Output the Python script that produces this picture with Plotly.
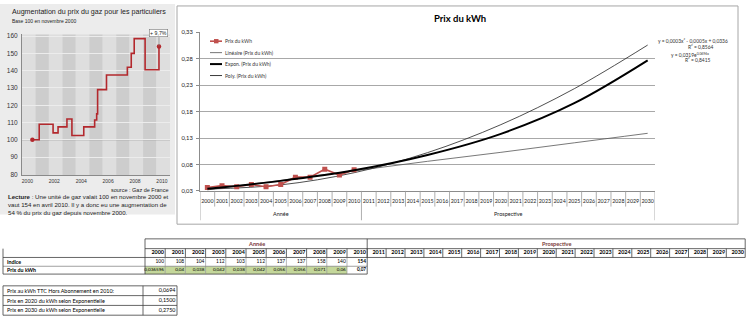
import plotly.graph_objects as go

W, H = 750, 327
def X(px): return px / W
def Y(py): return 1 - py / H

# ---------------- data ----------------
# Left panel: gas price index (base 100 = Nov 2000), step dates
gas_dates = [2000.37, 2000.88, 2001.91, 2002.28, 2002.94, 2003.31, 2004.19, 2005.0,
             2005.15, 2005.22, 2005.88, 2007.43, 2007.72, 2007.94, 2008.75, 2009.78]
gas_index = [100, 109, 104, 107.5, 112, 102.5, 107.5, 111.5,
             115, 129, 137.5, 142, 150, 158.5, 140.5, 154]
gas_xticks = [2000, 2002, 2004, 2006, 2008, 2010]
gas_yticks = [80, 90, 100, 110, 120, 130, 140, 150, 160]

# Main chart
years = list(range(2000, 2031))
year_labels = [str(y) for y in years]
obs_years = list(range(2000, 2011))
prix_kwh = [0.036596, 0.04, 0.038, 0.042, 0.038, 0.042, 0.056, 0.056, 0.071, 0.06, 0.07]
indice = [100, 108, 104, 112, 103, 112, 137, 137, 158, 140, 154]
prix_txt = ["0,036596", "0,04", "0,038", "0,042", "0,038", "0,042", "0,056", "0,056", "0,071", "0,06", "0,07"]
trend_years = [2000, 2005, 2010, 2015, 2020, 2025, 2030]
trend_lin = [0.032, 0.050, 0.068, 0.086, 0.103, 0.121, 0.139]
trend_exp = [0.034, 0.049, 0.069, 0.098, 0.138, 0.196, 0.277]
trend_poly = [0.0334, 0.0414, 0.0644, 0.1024, 0.1554, 0.2234, 0.306]
y_ticks = [0.03, 0.08, 0.13, 0.18, 0.23, 0.28, 0.33]

summary_labels = ["Prix au kWh TTC Hors Abonnement en 2010:",
                  "Prix en 2020 du kWh selon Exponentielle",
                  "Prix en 2030 du kWh selon Exponentielle"]
summary_values = ["0,0694", "0,1500", "0,2750"]

RED_GAS = "#b3282d"
RED_XL = "#c0504d"
XLFONT = "Lato"
ARIAL = "Liberation Sans"

fig = go.Figure()
shapes = []
ann = []

# ---------------- left panel ----------------
shapes.append(dict(type="rect", xref="paper", yref="paper", x0=0, x1=X(175), y0=Y(215), y1=Y(0),
                   fillcolor="#ececec", line=dict(width=0), layer="below"))
band_edges = [1999.6 + i for i in range(12)]
for i in range(11):
    shapes.append(dict(type="rect", xref="x", yref="y", x0=band_edges[i], x1=band_edges[i + 1],
                       y0=79.5, y1=161, fillcolor="#cdcdcd" if i % 2 else "#dedede",
                       line=dict(width=0), layer="below"))
shapes.append(dict(type="line", xref="x", yref="y", x0=1999.6, x1=2010.6, y0=100, y1=100,
                   line=dict(color="#9a9a9a", width=1), layer="below"))

fig.add_trace(go.Scatter(x=gas_dates, y=gas_index, mode="lines", xaxis="x", yaxis="y",
                         line=dict(color=RED_GAS, width=1.6, shape="hv"), hoverinfo="skip", showlegend=False))
fig.add_trace(go.Scatter(x=[gas_dates[0], gas_dates[-1]], y=[gas_index[0], gas_index[-1]], mode="markers",
                         xaxis="x", yaxis="y", marker=dict(color=RED_GAS, size=4.5), hoverinfo="skip",
                         showlegend=False))

ann.append(dict(xref="paper", yref="paper", x=X(10), y=Y(8), xanchor="left", yanchor="middle",
                text="Augmentation du prix du gaz pour les particuliers", showarrow=False,
                font=dict(family=ARIAL, size=7.1, color="#222")))
ann.append(dict(xref="paper", yref="paper", x=X(10), y=Y(17), xanchor="left", yanchor="middle",
                text="Base 100 en novembre 2000", showarrow=False,
                font=dict(family=ARIAL, size=5, color="#222")))
ann.append(dict(xref="x", yref="y", x=gas_dates[-1], y=gas_index[-1], ax=0, ay=-13,
                text="+ 9,7%", showarrow=True, arrowhead=0, arrowwidth=0.6, arrowcolor="#777",
                bgcolor="white", bordercolor="#777", borderwidth=0.6, borderpad=0.5,
                font=dict(family=ARIAL, size=5.2, color="#222")))
ann.append(dict(xref="paper", yref="paper", x=X(170), y=Y(190), xanchor="right", yanchor="middle",
                text="source : Gaz de France", showarrow=False,
                font=dict(family=ARIAL, size=5.5, color="#222")))
ann.append(dict(xref="paper", yref="paper", x=X(6), y=Y(205), xanchor="left", yanchor="middle", align="left",
                text="<b>Lecture</b> : Une unité de gaz valait 100 en novembre 2000 et<br>"
                     "vaut 154 en avril 2010. Il y a donc eu une augmentation de<br>"
                     "54 % du prix du gaz depuis novembre 2000.",
                showarrow=False, font=dict(family=ARIAL, size=6.1, color="#222")))

# ---------------- main Excel chart ----------------
shapes.append(dict(type="rect", xref="paper", yref="paper", x0=X(177), x1=X(738), y0=Y(225), y1=Y(2),
                   line=dict(color="#a6a6a6", width=1), fillcolor="rgba(0,0,0,0)", layer="below"))

fig.add_trace(go.Scatter(x=trend_years, y=trend_lin, mode="lines", xaxis="x2", yaxis="y2",
                         line=dict(color="#555555", width=0.8, shape="spline"), hoverinfo="skip", showlegend=False))
fig.add_trace(go.Scatter(x=trend_years, y=trend_poly, mode="lines", xaxis="x2", yaxis="y2",
                         line=dict(color="#222222", width=0.8, shape="spline"), hoverinfo="skip", showlegend=False))
fig.add_trace(go.Scatter(x=obs_years, y=prix_kwh, mode="lines+markers", xaxis="x2", yaxis="y2",
                         line=dict(color=RED_XL, width=1.6), marker=dict(symbol="square", size=5, color=RED_XL),
                         hoverinfo="skip", showlegend=False))
fig.add_trace(go.Scatter(x=trend_years, y=trend_exp, mode="lines", xaxis="x2", yaxis="y2",
                         line=dict(color="#000000", width=2, shape="spline"), hoverinfo="skip", showlegend=False))

ann.append(dict(xref="paper", yref="paper", x=X(460), y=Y(15), xanchor="center", yanchor="middle",
                text="<b>Prix du kWh</b>", showarrow=False, font=dict(family=XLFONT, size=9.5, color="#000")))

for k in range(len(years) + 1):
    xv = years[0] - 0.5 + k
    bottom = 221 if xv in (1999.5, 2010.5, 2030.5) else 207
    shapes.append(dict(type="line", xref="x2", yref="paper", x0=xv, x1=xv, y0=Y(191), y1=Y(bottom),
                       line=dict(color="#9a9a9a", width=0.8)))
ann.append(dict(xref="x2", yref="paper", x=2005, y=Y(215), text="Année", showarrow=False,
                font=dict(family=XLFONT, size=5.5, color="#222")))
ann.append(dict(xref="x2", yref="paper", x=2020.5, y=Y(215), text="Prospective", showarrow=False,
                font=dict(family=XLFONT, size=5.5, color="#222")))

leg = [("Prix du kWh", RED_XL, 1.6), ("Linéaire (Prix du kWh)", "#666666", 0.9),
       ("Expon. (Prix du kWh)", "#000000", 2.0), ("Poly. (Prix du kWh)", "#222222", 0.9)]
for i, (lab, col, wd) in enumerate(leg):
    yy = 38 + i * 11.7
    shapes.append(dict(type="line", xref="paper", yref="paper", x0=X(210), x1=X(222), y0=Y(yy), y1=Y(yy),
                       line=dict(color=col, width=wd)))
    if i == 0:
        shapes.append(dict(type="rect", xref="paper", yref="paper", x0=X(214), x1=X(218.5),
                           y0=Y(yy + 2.2), y1=Y(yy - 2.2), fillcolor=col, line=dict(width=0)))
    ann.append(dict(xref="paper", yref="paper", x=X(223), y=Y(yy), xanchor="left", yanchor="middle",
                    text=lab, showarrow=False, font=dict(family=XLFONT, size=5, color="#333")))

eq = [(693, 38, "y = 0,0003x² - 0,0005x + 0,0336"), (700, 43.5, "R² = 0,8564"),
      (690, 52, "y = 0,0319e<sup>0,0696x</sup>"), (697, 57.5, "R² = 0,8415")]
for xx, yy, t in eq:
    ann.append(dict(xref="paper", yref="paper", x=X(xx), y=Y(yy), xanchor="center", yanchor="middle",
                    text=t, showarrow=False, font=dict(family=XLFONT, size=4.9, color="#333")))

# ---------------- spreadsheet table ----------------
R0, R1, R2, R3, R4 = 240, 250, 259, 268, 276
edges_a = [145 + i * 20.2 for i in range(12)]
edges_p = [edges_a[-1] + i * 18.9 for i in range(21)]
col_edges = edges_a + edges_p[1:]
LC = "#404040"

def hline(x0, x1, y, c=LC, w=0.8):
    shapes.append(dict(type="line", xref="x3", yref="y3", x0=x0, x1=x1, y0=y, y1=y, line=dict(color=c, width=w)))

def vline(x, y0, y1, c=LC, w=0.8):
    shapes.append(dict(type="line", xref="x3", yref="y3", x0=x, x1=x, y0=y0, y1=y1, line=dict(color=c, width=w)))

for i in range(10):
    shapes.append(dict(type="rect", xref="x3", yref="y3", x0=edges_a[i], x1=edges_a[i + 1], y0=R3, y1=R4,
                       fillcolor="#c4d79b", line=dict(width=0), layer="below"))
hline(edges_a[0], edges_p[-1], R0)
hline(edges_a[0], edges_p[-1], R1)
hline(3, edges_p[-1], R2)
hline(3, edges_a[-1], R3, c="#888")
hline(3, edges_a[-1], R4)
vline(3, R1, R4)
vline(edges_a[0], R0, R4)
vline(edges_a[-1], R0, R4)
vline(edges_p[-1], R0, R2)
for e in col_edges[1:-1]:
    vline(e, R1, R2)
for e in edges_a[1:-1]:
    vline(e, R2, R4, c="#888", w=0.6)

cx_all = [col_edges[i + 1] - 1.2 for i in range(len(years))]
fig.add_trace(go.Scatter(x=cx_all, y=[(R1 + R2) / 2] * len(years), mode="text", xaxis="x3", yaxis="y3",
                         text=["<b>%s</b>" % s for s in year_labels], textposition="middle left",
                         textfont=dict(family=XLFONT, size=5.4, color="#000"), hoverinfo="skip", showlegend=False))
cx_obs = [edges_a[i + 1] - 1.2 for i in range(len(obs_years))]
ind_txt = [str(v) for v in indice[:-1]] + ["<b>%d</b>" % indice[-1]]
fig.add_trace(go.Scatter(x=cx_obs, y=[(R2 + R3) / 2] * len(obs_years), mode="text", xaxis="x3", yaxis="y3",
                         text=ind_txt, textposition="middle left",
                         textfont=dict(family=XLFONT, size=4.9, color="#000"), hoverinfo="skip", showlegend=False))
pr_txt = prix_txt[:-1] + ["<b>%s</b>" % prix_txt[-1]]
fig.add_trace(go.Scatter(x=cx_obs, y=[(R3 + R4) / 2] * len(obs_years), mode="text", xaxis="x3", yaxis="y3",
                         text=pr_txt, textposition="middle left",
                         textfont=dict(family=XLFONT, size=4.6, color="#000"), hoverinfo="skip", showlegend=False))
ann.append(dict(xref="x3", yref="y3", x=(edges_a[0] + edges_a[-1]) / 2, y=(R0 + R1) / 2, text="<b>Année</b>",
                showarrow=False, font=dict(family=XLFONT, size=5.6, color="#7a3b3b")))
ann.append(dict(xref="x3", yref="y3", x=(edges_p[0] + edges_p[-1]) / 2, y=(R0 + R1) / 2, text="<b>Prospective</b>",
                showarrow=False, font=dict(family=XLFONT, size=5.6, color="#7a3b3b")))
ann.append(dict(xref="x3", yref="y3", x=5, y=(R2 + R3) / 2, xanchor="left", text="<b>Indice</b>",
                showarrow=False, font=dict(family=XLFONT, size=5.3, color="#000")))
ann.append(dict(xref="x3", yref="y3", x=5, y=(R3 + R4) / 2, xanchor="left", text="<b>Prix du kWh</b>",
                showarrow=False, font=dict(family=XLFONT, size=5.3, color="#000")))

S = [288, 298, 308, 318]
for yv in S:
    hline(3, 177, yv)
vline(3, S[0], S[-1]); vline(143, S[0], S[-1]); vline(177, S[0], S[-1])
for i in range(3):
    ann.append(dict(xref="x3", yref="y3", x=5, y=(S[i] + S[i + 1]) / 2, xanchor="left",
                    text=summary_labels[i], showarrow=False, font=dict(family=XLFONT, size=5.4, color="#000")))
fig.add_trace(go.Scatter(x=[175.5] * 3, y=[(S[i] + S[i + 1]) / 2 for i in range(3)], mode="text",
                         xaxis="x3", yaxis="y3", text=summary_values, textposition="middle left",
                         textfont=dict(family=XLFONT, size=5.4, color="#000"), hoverinfo="skip", showlegend=False))

# ---------------- layout ----------------
fig.update_layout(
    width=W, height=H, margin=dict(l=0, r=0, t=0, b=0),
    paper_bgcolor="white", plot_bgcolor="rgba(0,0,0,0)",
    separators=", ", showlegend=False,
    shapes=shapes, annotations=ann,
    xaxis=dict(domain=[X(22), X(170)], range=[1999.6, 2010.6], tickvals=gas_xticks,
               tickfont=dict(family=ARIAL, size=5, color="#333"), showgrid=False, zeroline=False,
               showline=True, linecolor="#8a8a8a", linewidth=1, ticks="", ticklabelstandoff=1, fixedrange=True),
    yaxis=dict(domain=[Y(175), Y(31)], range=[79.5, 161], tickvals=gas_yticks,
               tickfont=dict(family=ARIAL, size=6.5, color="#333"), showgrid=True, gridcolor="#ececec",
               gridwidth=0.8, zeroline=False, showline=True, linecolor="#8a8a8a", linewidth=1, ticks="",
               ticklabelstandoff=2, fixedrange=True),
    xaxis2=dict(domain=[X(200), X(655)], range=[1999.5, 2030.5], tickvals=years, ticktext=year_labels,
                tickfont=dict(family=XLFONT, size=5.3, color="#222"), showgrid=False, zeroline=False,
                showline=True, linecolor="#8c8c8c", linewidth=1, ticks="", ticklabelstandoff=5,
                anchor="y2", fixedrange=True),
    yaxis2=dict(domain=[Y(191), Y(29)], range=[0.03, 0.33], tickvals=y_ticks, tickformat=".2f",
                tickfont=dict(family=XLFONT, size=5.8, color="#222"), showgrid=True, gridcolor="#a8a8a8",
                gridwidth=0.8, zeroline=False, showline=True, linecolor="#8c8c8c", linewidth=1,
                ticks="outside", ticklen=3, tickcolor="#8c8c8c", ticklabelstandoff=2, anchor="x2", fixedrange=True),
    xaxis3=dict(domain=[0, 1], range=[0, W], visible=False, anchor="y3", fixedrange=True),
    yaxis3=dict(domain=[0, 1], range=[H, 0], visible=False, anchor="x3", fixedrange=True),
)

fig.write_html("out.html")
